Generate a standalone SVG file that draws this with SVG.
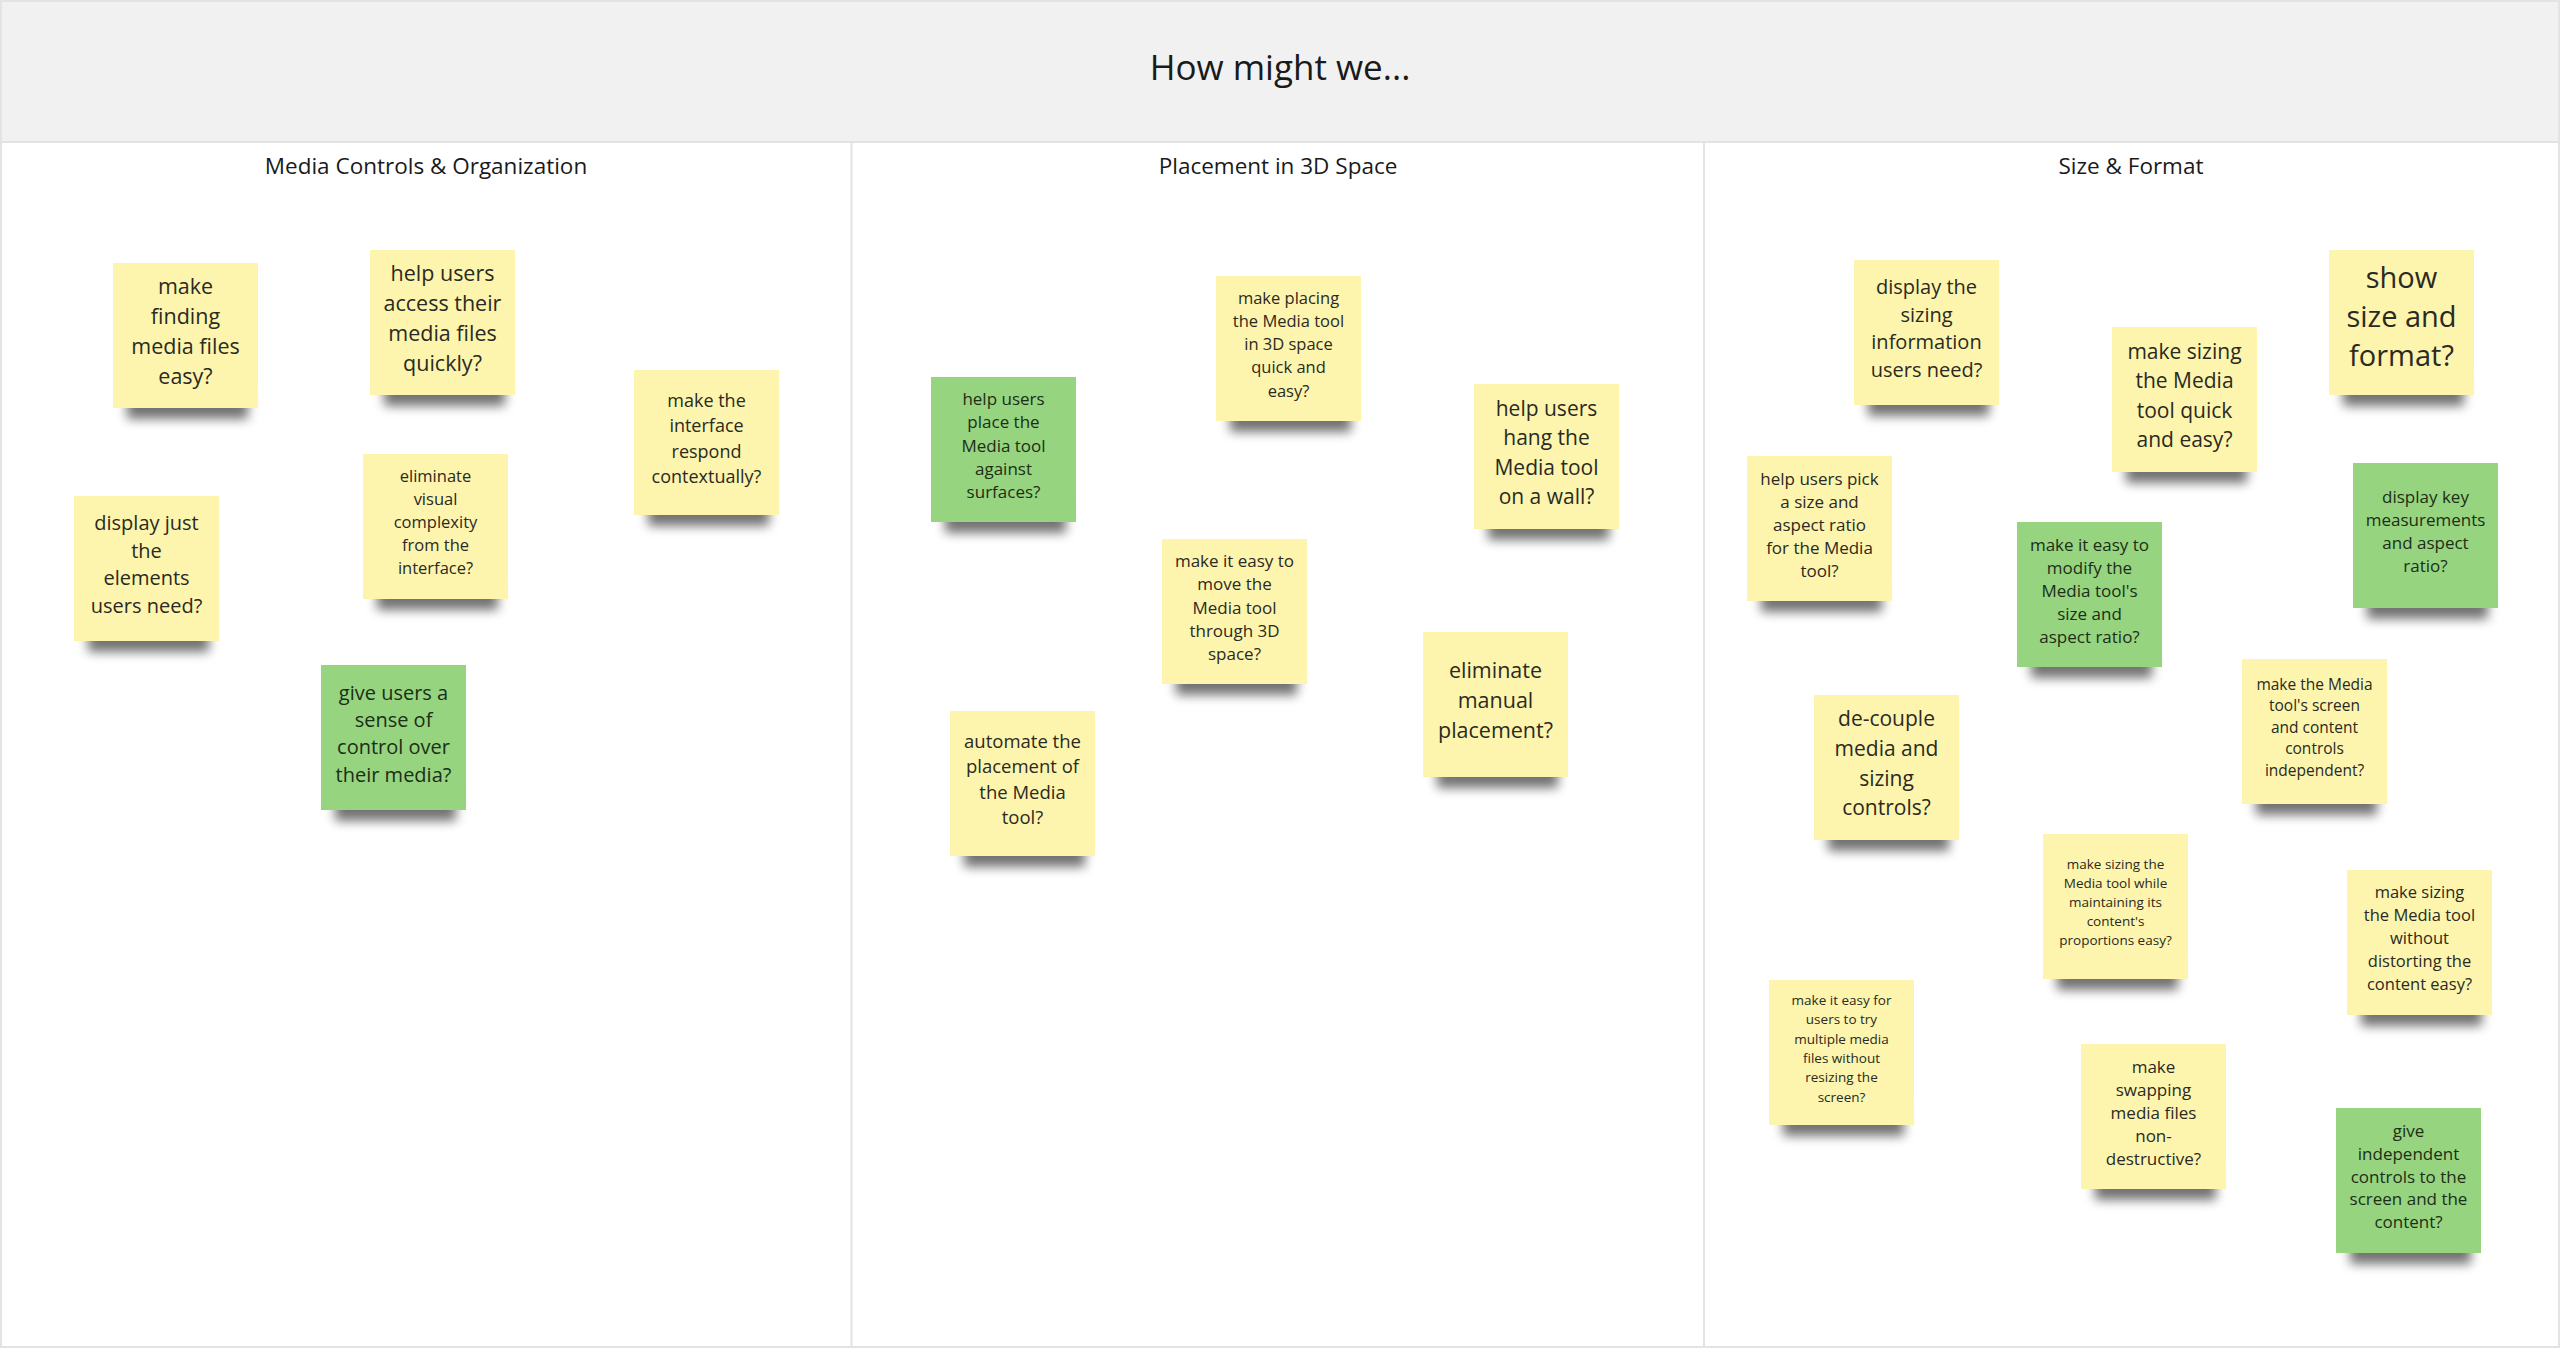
<svg xmlns="http://www.w3.org/2000/svg" width="2560" height="1349" viewBox="0 0 2560 1349">
<defs>
<filter id="sh" x="-30%" y="-50%" width="160%" height="200%"><feGaussianBlur stdDeviation="5.5"/></filter>
<style>
.bg{fill:#ffffff}
.hdr{fill:#f1f1f1}
.ln{stroke:#e3e3e3;stroke-width:2;fill:none}
.title{font-family:"Open Sans","Liberation Sans",sans-serif;font-size:35px;fill:#1a1a1a;text-anchor:middle}
.col{font-family:"Open Sans","Liberation Sans",sans-serif;font-size:22.5px;fill:#1a1a1a;text-anchor:middle}
.shadow{fill:#000;opacity:0.55;filter:url(#sh)}
.y{fill:#fdf5ae}
.g{fill:#96d480}
.t{font-family:"Open Sans","Liberation Sans",sans-serif;fill:#2a2a22;text-anchor:middle}
.tg{font-family:"Open Sans","Liberation Sans",sans-serif;fill:#1c2e16;text-anchor:middle}
</style>
</defs>
<rect class="bg" x="0" y="0" width="2560" height="1349"/>
<g id="header">
<rect class="hdr" x="1" y="1" width="2558" height="141"/>
<line class="ln" x1="0" y1="142" x2="2560" y2="142"/>
<text class="title" x="1280" y="80">How might we...</text>
</g>
<g id="frame">
<rect class="ln" x="1" y="1" width="2558" height="1346"/>
<line class="ln" x1="851.5" y1="142" x2="851.5" y2="1347"/>
<line class="ln" x1="1704" y1="142" x2="1704" y2="1347"/>
<text class="col" x="426" y="174">Media Controls &amp; Organization</text>
<text class="col" x="1278" y="174">Placement in 3D Space</text>
<text class="col" x="2131" y="174">Size &amp; Format</text>
</g>
<g id="connectors"></g>

<g id="n1" transform="translate(113,263)"><rect class="shadow" x="14" y="124" width="121" height="32"/><rect class="y" width="145" height="145"/><text class="t" font-size="21.5"><tspan x="72.5" y="31">make</tspan><tspan x="72.5" y="61">finding</tspan><tspan x="72.5" y="91">media files</tspan><tspan x="72.5" y="121">easy?</tspan></text></g>
<g id="n2" transform="translate(370,250)"><rect class="shadow" x="14" y="124" width="121" height="32"/><rect class="y" width="145" height="145"/><text class="t" font-size="21.5"><tspan x="72.5" y="31">help users</tspan><tspan x="72.5" y="61">access their</tspan><tspan x="72.5" y="91">media files</tspan><tspan x="72.5" y="121">quickly?</tspan></text></g>
<g id="n3" transform="translate(634,370)"><rect class="shadow" x="14" y="124" width="121" height="32"/><rect class="y" width="145" height="145"/><text class="t" font-size="18"><tspan x="72.5" y="36.9">make the</tspan><tspan x="72.5" y="62.2">interface</tspan><tspan x="72.5" y="87.5">respond</tspan><tspan x="72.5" y="112.8">contextually?</tspan></text></g>
<g id="n4" transform="translate(363,454)"><rect class="shadow" x="14" y="124" width="121" height="32"/><rect class="y" width="145" height="145"/><text class="t" font-size="16.5"><tspan x="72.5" y="28.3">eliminate</tspan><tspan x="72.5" y="51.3">visual</tspan><tspan x="72.5" y="74.3">complexity</tspan><tspan x="72.5" y="97.3">from the</tspan><tspan x="72.5" y="120.3">interface?</tspan></text></g>
<g id="n5" transform="translate(74,496)"><rect class="shadow" x="14" y="124" width="121" height="32"/><rect class="y" width="145" height="145"/><text class="t" font-size="20"><tspan x="72.5" y="34.3">display just</tspan><tspan x="72.5" y="61.8">the</tspan><tspan x="72.5" y="89.3">elements</tspan><tspan x="72.5" y="116.8">users need?</tspan></text></g>
<g id="n6" transform="translate(321,665)"><rect class="shadow" x="14" y="124" width="121" height="32"/><rect class="g" width="145" height="145"/><text class="tg" font-size="20"><tspan x="72.5" y="34.6">give users a</tspan><tspan x="72.5" y="61.9">sense of</tspan><tspan x="72.5" y="89.2">control over</tspan><tspan x="72.5" y="116.5">their media?</tspan></text></g>

<g id="n7" transform="translate(931,377)"><rect class="shadow" x="14" y="124" width="121" height="32"/><rect class="g" width="145" height="145"/><text class="tg" font-size="17"><tspan x="72.5" y="28.1">help users</tspan><tspan x="72.5" y="51.3">place the</tspan><tspan x="72.5" y="74.5">Media tool</tspan><tspan x="72.5" y="97.7">against</tspan><tspan x="72.5" y="120.9">surfaces?</tspan></text></g>
<g id="n8" transform="translate(1216,276)"><rect class="shadow" x="14" y="124" width="121" height="32"/><rect class="y" width="145" height="145"/><text class="t" font-size="16.5"><tspan x="72.5" y="28.1">make placing</tspan><tspan x="72.5" y="51.2">the Media tool</tspan><tspan x="72.5" y="74.3">in 3D space</tspan><tspan x="72.5" y="97.4">quick and</tspan><tspan x="72.5" y="120.5">easy?</tspan></text></g>
<g id="n9" transform="translate(1474,384)"><rect class="shadow" x="14" y="124" width="121" height="32"/><rect class="y" width="145" height="145"/><text class="t" font-size="21"><tspan x="72.5" y="31.6">help users</tspan><tspan x="72.5" y="61.1">hang the</tspan><tspan x="72.5" y="90.6">Media tool</tspan><tspan x="72.5" y="120.1">on a wall?</tspan></text></g>
<g id="n10" transform="translate(1162,539)"><rect class="shadow" x="14" y="124" width="121" height="32"/><rect class="y" width="145" height="145"/><text class="t" font-size="17"><tspan x="72.5" y="28.1">make it easy to</tspan><tspan x="72.5" y="51.3">move the</tspan><tspan x="72.5" y="74.5">Media tool</tspan><tspan x="72.5" y="97.7">through 3D</tspan><tspan x="72.5" y="120.9">space?</tspan></text></g>
<g id="n11" transform="translate(1423,632)"><rect class="shadow" x="14" y="124" width="121" height="32"/><rect class="y" width="145" height="145"/><text class="t" font-size="21.5"><tspan x="72.5" y="46">eliminate</tspan><tspan x="72.5" y="76">manual</tspan><tspan x="72.5" y="106">placement?</tspan></text></g>
<g id="n12" transform="translate(950,711)"><rect class="shadow" x="14" y="124" width="121" height="32"/><rect class="y" width="145" height="145"/><text class="t" font-size="18.5"><tspan x="72.5" y="36.9">automate the</tspan><tspan x="72.5" y="62.3">placement of</tspan><tspan x="72.5" y="87.7">the Media</tspan><tspan x="72.5" y="113.1">tool?</tspan></text></g>

<g id="n13" transform="translate(1854,260)"><rect class="shadow" x="14" y="124" width="121" height="32"/><rect class="y" width="145" height="145"/><text class="t" font-size="20"><tspan x="72.5" y="34.1">display the</tspan><tspan x="72.5" y="61.7">sizing</tspan><tspan x="72.5" y="89.3">information</tspan><tspan x="72.5" y="116.9">users need?</tspan></text></g>
<g id="n14" transform="translate(2112,327)"><rect class="shadow" x="14" y="124" width="121" height="32"/><rect class="y" width="145" height="145"/><text class="t" font-size="21"><tspan x="72.5" y="31.8">make sizing</tspan><tspan x="72.5" y="61.2">the Media</tspan><tspan x="72.5" y="90.6">tool quick</tspan><tspan x="72.5" y="120">and easy?</tspan></text></g>
<g id="n15" transform="translate(2329,250)"><rect class="shadow" x="14" y="124" width="121" height="32"/><rect class="y" width="145" height="145"/><text class="t" font-size="29"><tspan x="72.5" y="38.2">show</tspan><tspan x="72.5" y="77.2">size and</tspan><tspan x="72.5" y="116.2">format?</tspan></text></g>
<g id="n16" transform="translate(1747,456)"><rect class="shadow" x="14" y="124" width="121" height="32"/><rect class="y" width="145" height="145"/><text class="t" font-size="17"><tspan x="72.5" y="28.5">help users pick</tspan><tspan x="72.5" y="51.5">a size and</tspan><tspan x="72.5" y="74.5">aspect ratio</tspan><tspan x="72.5" y="97.5">for the Media</tspan><tspan x="72.5" y="120.5">tool?</tspan></text></g>
<g id="n17" transform="translate(2017,522)"><rect class="shadow" x="14" y="124" width="121" height="32"/><rect class="g" width="145" height="145"/><text class="tg" font-size="17"><tspan x="72.5" y="28.5">make it easy to</tspan><tspan x="72.5" y="51.5">modify the</tspan><tspan x="72.5" y="74.5">Media tool's</tspan><tspan x="72.5" y="97.5">size and</tspan><tspan x="72.5" y="120.5">aspect ratio?</tspan></text></g>
<g id="n18" transform="translate(2353,463)"><rect class="shadow" x="14" y="124" width="121" height="32"/><rect class="g" width="145" height="145"/><text class="tg" font-size="17"><tspan x="72.5" y="40">display key</tspan><tspan x="72.5" y="63">measurements</tspan><tspan x="72.5" y="86">and aspect</tspan><tspan x="72.5" y="109">ratio?</tspan></text></g>
<g id="n19" transform="translate(2242,659)"><rect class="shadow" x="14" y="124" width="121" height="32"/><rect class="y" width="145" height="145"/><text class="t" font-size="15.5"><tspan x="72.5" y="30.9">make the Media</tspan><tspan x="72.5" y="52.4">tool's screen</tspan><tspan x="72.5" y="73.9">and content</tspan><tspan x="72.5" y="95.4">controls</tspan><tspan x="72.5" y="116.9">independent?</tspan></text></g>
<g id="n20" transform="translate(1814,695)"><rect class="shadow" x="14" y="124" width="121" height="32"/><rect class="y" width="145" height="145"/><text class="t" font-size="21"><tspan x="72.5" y="31.3">de-couple</tspan><tspan x="72.5" y="61">media and</tspan><tspan x="72.5" y="90.7">sizing</tspan><tspan x="72.5" y="120.4">controls?</tspan></text></g>
<g id="n21" transform="translate(2043,834)"><rect class="shadow" x="14" y="124" width="121" height="32"/><rect class="y" width="145" height="145"/><text class="t" font-size="13.5"><tspan x="72.5" y="35">make sizing the</tspan><tspan x="72.5" y="54.1">Media tool while</tspan><tspan x="72.5" y="73.2">maintaining its</tspan><tspan x="72.5" y="92.3">content's</tspan><tspan x="72.5" y="111.4">proportions easy?</tspan></text></g>
<g id="n22" transform="translate(2347,870)"><rect class="shadow" x="14" y="124" width="121" height="32"/><rect class="y" width="145" height="145"/><text class="t" font-size="16.5"><tspan x="72.5" y="28.3">make sizing</tspan><tspan x="72.5" y="51.3">the Media tool</tspan><tspan x="72.5" y="74.3">without</tspan><tspan x="72.5" y="97.3">distorting the</tspan><tspan x="72.5" y="120.3">content easy?</tspan></text></g>
<g id="n23" transform="translate(1769,980)"><rect class="shadow" x="14" y="124" width="121" height="32"/><rect class="y" width="145" height="145"/><text class="t" font-size="13.5"><tspan x="72.5" y="25">make it easy for</tspan><tspan x="72.5" y="44.3">users to try</tspan><tspan x="72.5" y="63.6">multiple media</tspan><tspan x="72.5" y="82.9">files without</tspan><tspan x="72.5" y="102.2">resizing the</tspan><tspan x="72.5" y="121.5">screen?</tspan></text></g>
<g id="n24" transform="translate(2081,1044)"><rect class="shadow" x="14" y="124" width="121" height="32"/><rect class="y" width="145" height="145"/><text class="t" font-size="17"><tspan x="72.5" y="28.5">make</tspan><tspan x="72.5" y="51.5">swapping</tspan><tspan x="72.5" y="74.5">media files</tspan><tspan x="72.5" y="97.5">non-</tspan><tspan x="72.5" y="120.5">destructive?</tspan></text></g>
<g id="n25" transform="translate(2336,1108)"><rect class="shadow" x="14" y="124" width="121" height="32"/><rect class="g" width="145" height="145"/><text class="tg" font-size="17"><tspan x="72.5" y="28.9">give</tspan><tspan x="72.5" y="51.7">independent</tspan><tspan x="72.5" y="74.5">controls to the</tspan><tspan x="72.5" y="97.3">screen and the</tspan><tspan x="72.5" y="120.1">content?</tspan></text></g>
</svg>
